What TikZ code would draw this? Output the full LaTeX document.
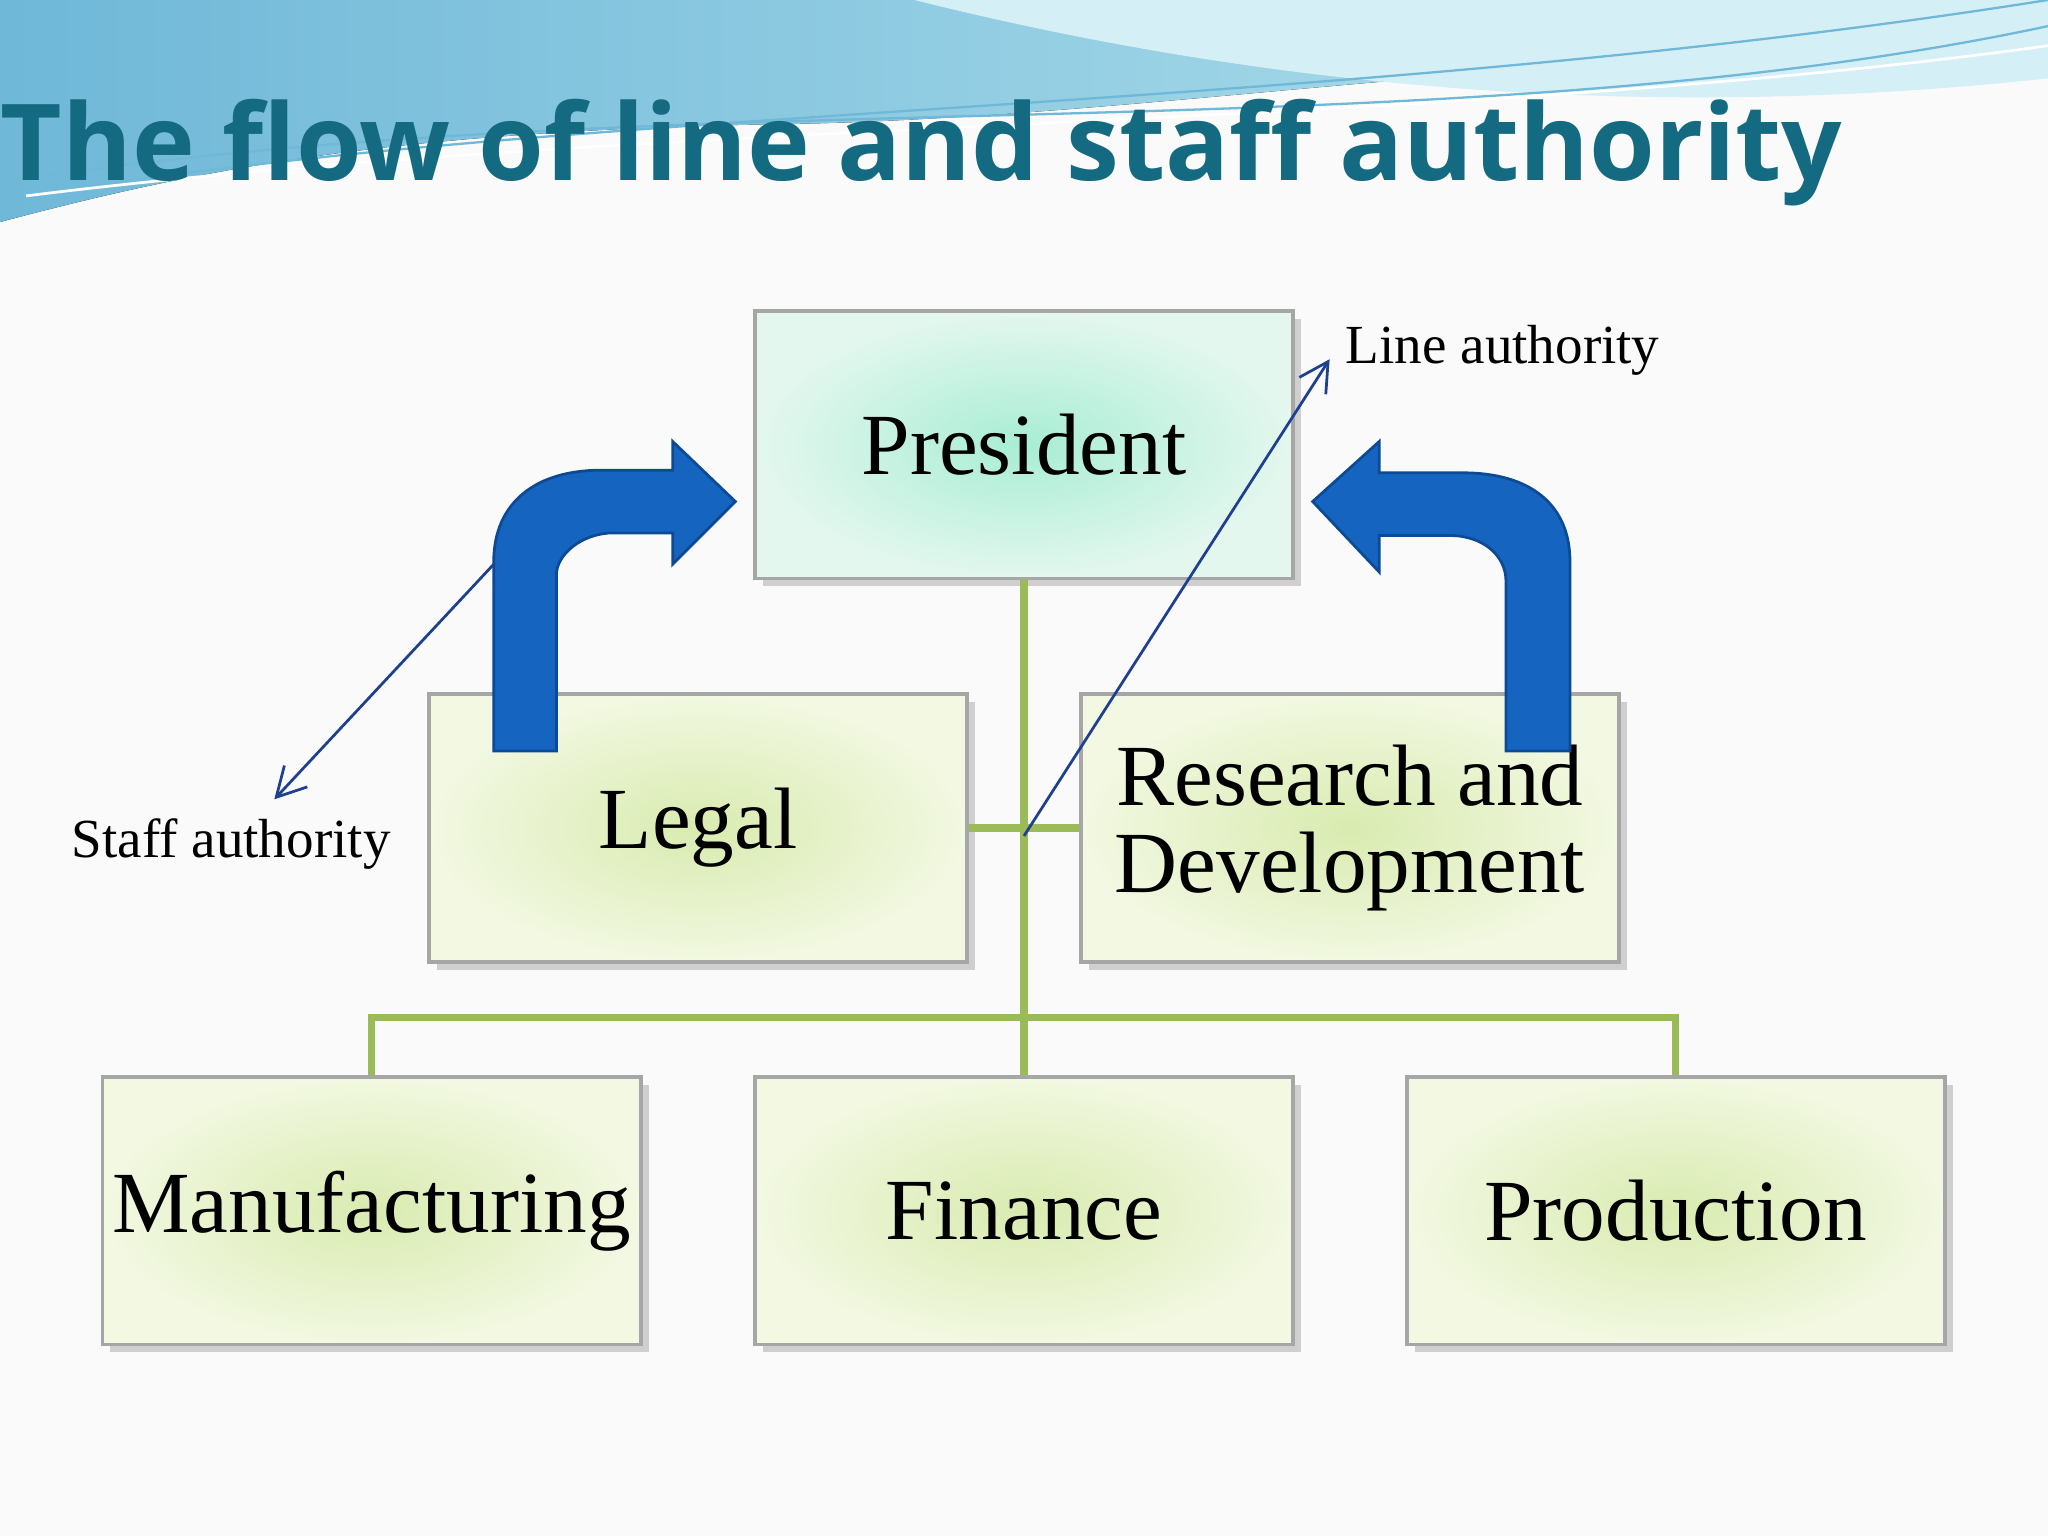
\documentclass[tikz,border=0pt]{standalone}
\usepackage{fontspec}
\setmainfont{Liberation Serif}
\newfontfamily\titlefont{Open Sans}
\usetikzlibrary{shadows,arrows.meta}
\definecolor{titleblue}{HTML}{146A80}
\definecolor{connG}{HTML}{9BBB59}
\definecolor{arrowblue}{HTML}{1565C0}
\definecolor{arrowedge}{HTML}{0D4A96}
\definecolor{navy}{HTML}{1F3F8F}
\definecolor{waveA}{HTML}{6FB8D8}
\definecolor{waveB}{HTML}{B8E4EE}
\definecolor{boxIn}{HTML}{D9EBB0}
\definecolor{boxOut}{HTML}{F2F8E2}
\definecolor{presIn}{HTML}{A8EDD4}
\definecolor{presOut}{HTML}{E4F7EF}
\tikzset{
  orgbox/.style={draw=gray!70, line width=0.8pt, minimum width=4.12cm, minimum height=2.05cm,
    inner color=boxIn, outer color=boxOut,
    drop shadow={shadow xshift=0.06cm, shadow yshift=-0.06cm, opacity=0.35},
    font=\fontsize{19}{21}\selectfont, align=center, inner sep=2pt},
  presbox/.style={orgbox, inner color=presIn, outer color=presOut},
  conn/.style={connG, line width=1.6pt},
  bigarrow/.style={fill=arrowblue, draw=arrowedge, line width=0.6pt},
  thin/.style={navy, line width=0.6pt, -{Straight Barb[length=2.2mm,width=2.4mm]}},
  lbl/.style={font=\fontsize{12}{14}\selectfont}
}
\begin{document}
\begin{tikzpicture}[x=1cm,y=1cm]
\useasboundingbox (0,0) rectangle (15.68,-11.76);
\fill[white!96!gray] (0,0) rectangle (15.68,-11.76);
% top waves
\fill[left color=waveA, right color=waveB] (0,0) -- (15.68,0) -- (15.68,-0.45)
  .. controls (12,-0.3) and (9,-0.9) .. (6,-0.95) .. controls (3,-1.0) and (1.5,-1.3) .. (0,-1.7) -- cycle;
\fill[waveB!60!white] (7,0) .. controls (9,-0.5) and (12,-1.0) .. (15.68,-0.6) -- (15.68,0) -- cycle;
\draw[waveA, line width=0.5pt] (0,-1.55) .. controls (4,-0.8) and (10,-0.9) .. (15.68,0.0);
\draw[waveA, line width=0.5pt] (0,-1.4) .. controls (5,-0.6) and (11,-1.2) .. (15.68,-0.2);
\draw[white, line width=0.6pt] (0.2,-1.5) .. controls (5,-0.9) and (11,-1.0) .. (15.68,-0.35);
% title
\node[anchor=west, inner sep=0, text=titleblue] (title) at (0,-1.17)
  {\resizebox{14.1cm}{!}{\titlefont\bfseries The flow of line and staff authority}};
% boxes
\node[presbox] (pres) at (7.84,-3.405) {President};
\node[orgbox] (legal) at (5.345,-6.34) {Legal};
\node[orgbox] (rd) at (10.335,-6.34) {Research and\\[-2pt]Development};
\node[orgbox] (manu) at (2.845,-9.27) {Manufacturing};
\node[orgbox] (fin) at (7.84,-9.27) {Finance};
\node[orgbox] (prod) at (12.83,-9.27) {Production};
% connectors
\coordinate (j) at (7.84,-7.79);
\draw[conn] (pres.south) -- (j);
\draw[conn] (legal.east) -- (rd.west);
\draw[conn] (j) -| (manu.north);
\draw[conn] (j) -| (prod.north);
\draw[conn] (j) -- (fin.north);
% big arrows
\draw[bigarrow] (3.78,-5.75) -- (3.78,-4.3) .. controls (3.78,-3.85) and (4.1,-3.6) .. (4.6,-3.6)
  -- (5.15,-3.6) -- (5.15,-3.38) -- (5.63,-3.84) -- (5.15,-4.32) -- (5.15,-4.08) -- (4.7,-4.08)
  .. controls (4.45,-4.08) and (4.26,-4.25) .. (4.26,-4.4) -- (4.26,-5.75) -- cycle;
\draw[bigarrow] (12.02,-5.75) -- (12.02,-4.3) .. controls (12.02,-3.85) and (11.7,-3.62) .. (11.2,-3.62)
  -- (10.56,-3.62) -- (10.56,-3.38) -- (10.05,-3.84) -- (10.56,-4.38) -- (10.56,-4.1) -- (11.1,-4.1)
  .. controls (11.35,-4.1) and (11.53,-4.25) .. (11.53,-4.45) -- (11.53,-5.75) -- cycle;
% labels and thin arrows
\node[lbl, anchor=west] (line) at (10.18,-2.68) {Line authority};
\node[lbl] (staff) at (1.77,-6.46) {Staff authority};
\coordinate (ls) at (7.84,-6.40);
\coordinate (le) at (10.18,-2.75);
\draw[thin] (ls) -- (le);
\coordinate (ss) at (3.78,-4.32);
\coordinate (se) at (2.10,-6.12);
\draw[thin] (ss) -- (se);
\end{tikzpicture}
\end{document}
